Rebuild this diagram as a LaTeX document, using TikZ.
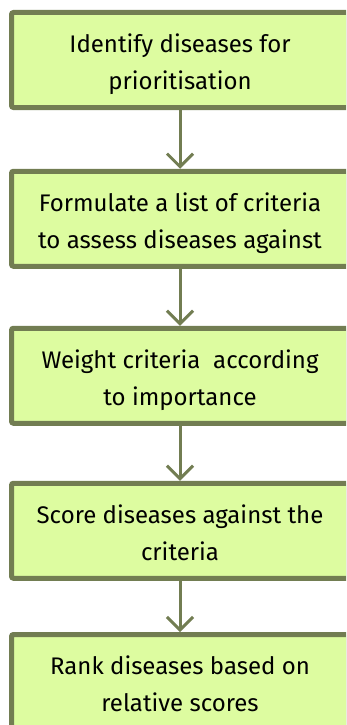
\documentclass[tikz,border=0pt]{standalone}
\usepackage{fontspec}
\setmainfont{Fira Sans}
\usetikzlibrary{arrows.meta}

\definecolor{boxfill}{RGB}{221,252,160}
\definecolor{boxline}{RGB}{114,125,82}

\begin{document}
\begin{tikzpicture}[
  x=1pt, y=-1pt,
  stepbox/.style={rectangle, draw=boxline, fill=boxfill, line width=5pt,
    rounded corners=2pt, minimum width=337pt, minimum height=95pt,
    align=center, text=black, font=\fontsize{24}{37}\selectfont,
    text height=65pt, text depth=6pt},
  flow/.style={draw=boxline, line width=3pt,
    -{Straight Barb[length=13pt, width=26pt, line width=3pt]}}
]
\useasboundingbox (0,0) rectangle (346,725);
\clip (0,0) rectangle (346,725);

% steps
\node[stepbox] (identify) at (180,60) {Identify diseases for\\prioritisation};
\node[stepbox] (formulate) at (180,218.75) {Formulate a list of criteria\\to assess diseases against};
\node[stepbox] (weight) at (180,375.75) {Weight criteria\ \ according\\to importance};
\node[stepbox] (score) at (180,530.75) {Score diseases against the\\criteria};
\node[stepbox] (rank) at (180,682) {Rank diseases based on\\relative scores};

% arrows
\draw[flow] (identify) -- (formulate);
\draw[flow] (formulate) -- (weight);
\draw[flow] (weight) -- (score);
\draw[flow] (score) -- (rank);

\end{tikzpicture}
\end{document}
